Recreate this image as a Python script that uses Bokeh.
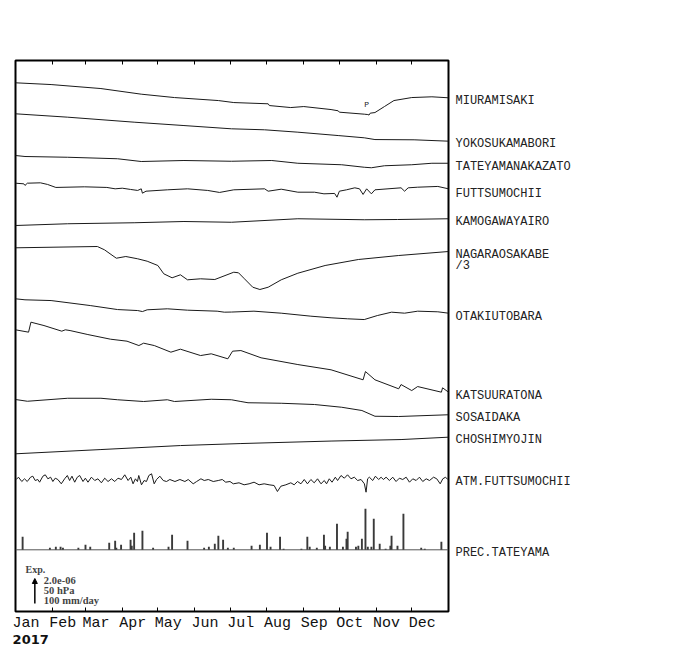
from bokeh.plotting import figure
from bokeh.models import Range1d, LinearAxis, FixedTicker, Label, Arrow, NormalHead
from bokeh.embed import file_html
from bokeh.resources import INLINE

# ---------------- data ----------------
months = ["Jan", "Feb", "Mar", "Apr", "May", "Jun", "Jul", "Aug", "Sep", "Oct", "Nov", "Dec"]
month_start_days = [0, 31, 59, 90, 120, 151, 181, 212, 243, 273, 304, 334]
year_label = "2017"

# strain, in units of 1e-6, relative to Jan 1
miura_days = [0, 30, 72, 106, 134, 171, 184, 213, 214, 232, 243, 266, 272, 273, 294, 297, 298, 299, 303, 311, 319, 334, 351, 365]
miura_vals = [0.00, -0.14, -0.46, -0.91, -1.18, -1.42, -1.58, -1.68, -1.82, -1.98, -1.90, -2.14, -2.24, -2.35, -2.51, -2.54, -2.58, -2.43, -2.38, -1.90, -1.42, -1.18, -1.12, -1.20]

yokosuka_days = [0, 44, 100, 142, 182, 210, 238, 272, 294, 303, 336, 365]
yokosuka_vals = [0, -0.27, -0.67, -0.94, -1.20, -1.28, -1.47, -1.74, -1.92, -2.06, -2.08, -2.19]

tateyama_days = [0, 8, 44, 86, 106, 142, 182, 216, 238, 275, 294, 300, 311, 334, 351, 365]
tateyama_vals = [0, -0.08, -0.14, -0.26, -0.48, -0.40, -0.46, -0.40, -0.62, -0.74, -0.94, -0.98, -0.82, -0.74, -0.62, -0.62]

futtsu_days = [0, 7, 8, 10, 21, 27, 34, 58, 77, 84, 90, 97, 103, 106, 107, 110, 128, 145, 162, 172, 184, 210, 213, 224, 238, 252, 260, 269, 271, 273, 279, 286, 290, 293, 296, 300, 303, 314, 325, 328, 331, 339, 356, 365]
futtsu_vals = [0, -0.05, -0.18, 0, 0.03, -0.10, -0.34, -0.29, -0.34, -0.45, -0.40, -0.50, -0.58, -0.45, -0.80, -0.64, -0.53, -0.45, -0.58, -0.74, -0.53, -0.45, -0.64, -0.48, -0.72, -0.72, -0.85, -0.82, -1.12, -0.64, -0.53, -0.37, -0.45, -0.90, -0.45, -0.85, -0.53, -0.45, -0.37, -0.64, -0.37, -0.32, -0.26, -0.45]

kamogawa_days = [0, 44, 100, 142, 182, 238, 294, 322, 365]
kamogawa_vals = [0, 0.14, 0.22, 0.32, 0.26, 0.54, 0.46, 0.48, 0.54]

nagara_days = [0, 69, 75, 85, 93, 103, 111, 120, 125, 132, 139, 145, 156, 168, 184, 188, 193, 200, 206, 213, 224, 238, 261, 289, 323, 365]
nagara_vals = [0, 0.31, -0.48, -2.50, -2.09, -2.64, -3.22, -4.25, -6.24, -7.20, -6.48, -7.68, -7.44, -7.61, -5.86, -6.00, -7.44, -9.46, -10.01, -9.46, -7.68, -6.10, -4.25, -2.81, -1.85, -0.89]

otaki_days = [0, 8, 30, 63, 86, 103, 107, 111, 128, 145, 170, 176, 182, 201, 224, 249, 266, 280, 294, 305, 317, 328, 339, 356, 365]
otaki_vals = [0, -0.08, -0.14, -0.54, -0.86, -0.94, -1.02, -0.88, -0.80, -0.91, -0.99, -1.07, -1.06, -0.99, -1.15, -1.39, -1.52, -1.60, -1.66, -1.34, -1.07, -1.15, -0.99, -1.04, -1.15]

katsuura_days = [0, 11, 13, 24, 39, 42, 46, 61, 80, 94, 104, 108, 117, 131, 139, 156, 165, 179, 183, 190, 207, 238, 266, 293, 295, 303, 323, 325, 334, 339, 359, 360, 365]
katsuura_vals = [0, -0.19, 0.61, 0.34, -0.11, 0, -0.06, -0.38, -0.75, -0.91, -1.26, -1.07, -1.26, -1.79, -1.55, -2.06, -1.92, -2.32, -1.71, -1.66, -2.24, -2.78, -3.20, -4.00, -3.34, -4.00, -4.72, -4.38, -4.86, -4.54, -4.99, -4.64, -4.99]

sosaidaka_days = [0, 10, 44, 72, 86, 108, 128, 134, 165, 182, 190, 196, 224, 252, 275, 292, 303, 323, 365]
sosaidaka_vals = [0, -0.14, 0.10, 0.10, -0.02, -0.16, -0.02, -0.16, 0.02, -0.02, -0.16, -0.26, -0.30, -0.40, -0.62, -0.88, -1.34, -1.36, -1.22]

choshi_days = [0, 72, 139, 190, 266, 325, 365]
choshi_vals = [0, 0.34, 0.66, 0.82, 1.02, 1.14, 1.33]

# atmospheric pressure at Futtsumochii, hPa
atm_days = [0.6, 2.5, 5.3, 7.6, 9.9, 12.7, 14.6, 16.6, 18.8, 20.3,
            23.1, 25.1, 27.3, 29.6, 31.5, 33.5, 35.7, 38.6, 41.4, 43.7,
            45.6, 47.6, 49.9, 52.1, 54.1, 56.9, 58.9, 61.1, 64.0, 66.8,
            69.5, 72.4, 75.2, 78.0, 80.9, 83.7, 86.4, 89.3, 92.1, 94.9,
            97.2, 99.1, 101.1, 102.8, 103.9, 106.2, 108.4, 110.4, 112.4, 114.7,
            116.9, 118.9, 121.7, 124.5, 127.3, 130.1, 134.4, 138.6, 142.8, 145.6,
            149.8, 152.7, 156.3, 159.1, 162.5, 166.7, 170.9, 174.3, 177.2, 180.8,
            183.6,
            188.4, 192.7, 196.9, 201.1, 205.3, 209.6, 213.8, 218.0, 220.8, 223.7,
            227.9, 232.1, 234.9, 237.7, 240.6, 243.4, 246.1, 249.0, 251.8, 254.6,
            257.5, 260.3, 262.2, 264.5, 266.8, 269.6, 271.5, 274.4, 277.2, 279.9,
            282.8, 285.6, 288.4, 291.3, 294.1, 295.5, 296.8, 298.3, 301.1, 303.4,
            306.1, 308.2, 310.1, 312.4, 315.2, 318.0, 320.8, 323.6, 326.4, 329.3,
            332.1, 334.9, 337.7, 340.5, 343.3, 346.2, 349.0, 352.4, 355.1, 358.0,
            360.2, 362.5, 364.4]
atm_hpa = [1015, 1019.6, 1011, 1016.4, 1011, 1019.6, 1021.6, 1013, 1015, 1009.6,
           1021.6, 1024.4, 1016.4, 1019.6, 1011, 1017.6, 1015, 1006.4, 1016.4, 1023,
           1013, 1021.6, 1009.6, 1019.6, 1023, 1011, 1017.6, 1009.6, 1019.6, 1013,
           1016.4, 1008.4, 1017.6, 1011, 1016.4, 1011, 1017.6, 1015, 1024.4, 1013,
           1019.6, 1006.4, 1016.4, 1011, 1023, 1004.4, 1013, 1011, 1023, 1026.4,
           1006.4, 1015, 1021.6, 1013, 1011, 1015, 1011, 1015, 1011, 1015,
           1006.4, 1011, 1016.4, 1013, 1015, 1011, 1013, 1015, 1009.6, 1011,
           1006.4,
           1008.4, 1004.4, 1006.4, 1009.6, 1004.4, 1006.4, 1004.4, 1003, 991, 1001.6,
           1004.4, 1008.4, 1004.4, 1011, 1006.4, 1015, 1006.4, 1015, 1008.4, 1016.4,
           1006.4, 1013, 1006.4, 1016.4, 1009.6, 1019.6, 1013, 1023, 1017.6, 1024.4,
           1016.4, 1019.6, 1013, 1015, 1006.4, 989.6, 1016.4, 1019.6, 1013, 1021.6,
           1015, 1019.6, 1015, 1019.6, 1013, 1019.6, 1011, 1017.6, 1015, 1019.6,
           1009.6, 1016.4, 1013, 1019.6, 1011, 1016.4, 1013, 1019.6, 1016.4, 1006.4,
           1016.4, 1019.6, 1015]

# daily precipitation at Tateyama, mm/day
prec_days = [6, 29, 34, 38, 40, 53, 59, 63, 79, 84, 85, 89, 97, 98, 100, 107, 116, 129, 132, 145,
             159, 163, 168, 171, 175, 179, 184, 199, 206, 212, 215, 223, 226, 241, 246, 248, 254, 260, 261, 265,
             271, 276, 279, 280, 287, 289, 292, 295, 297, 300, 302, 307, 312, 316, 317, 322, 327, 342, 345, 359]
prec_mm = [52, 8, 12, 12, 8, 8, 20, 12, 28, 36, 8, 20, 40, 16, 68, 76, 8, 12, 60, 36,
           8, 12, 24, 56, 40, 8, 8, 16, 20, 68, 12, 52, 4, 4, 52, 12, 8, 60, 16, 12,
           104, 12, 44, 72, 12, 16, 44, 164, 12, 12, 124, 24, 4, 16, 56, 16, 144, 8, 4, 32]

scale_texts = ["2.0e-06", "50 hPa", "100 mm/day"]

# ---------------- layout / scales ----------------
FRAME_W, FRAME_H = 433, 551
SCALE_PX = 25.0            # length of the scale arrow
STRAIN_PER_SCALE = 2.0     # x 1e-6
HPA_PER_SCALE = 50.0
MM_PER_SCALE = 100.0
px_strain = SCALE_PX / STRAIN_PER_SCALE

# (name, days, values, row start (px from frame top), label centre, divisor)
stations = [
    ("MIURAMISAKI", miura_days, miura_vals, 22.3, 40.7, 1),
    ("YOKOSUKAMABORI", yokosuka_days, yokosuka_vals, 53.3, 83.3, 1),
    ("TATEYAMANAKAZATO", tateyama_days, tateyama_vals, 95.0, 106.7, 1),
    ("FUTTSUMOCHII", futtsu_days, futtsu_vals, 122.7, 133.0, 1),
    ("KAMOGAWAYAIRO", kamogawa_days, kamogawa_vals, 165.0, 161.7, 1),
    ("NAGARAOSAKABE", nagara_days, nagara_vals, 187.3, 194.3, 3),
    ("OTAKIUTOBARA", otaki_days, otaki_vals, 238.3, 256.0, 1),
    ("KATSUURATONA", katsuura_days, katsuura_vals, 269.3, 335.7, 1),
    ("SOSAIDAKA", sosaidaka_days, sosaidaka_vals, 339.0, 357.3, 1),
    ("CHOSHIMYOJIN", choshi_days, choshi_vals, 393.3, 379.3, 1),
]
ATM_ROW, ATM_REF, ATM_LABEL = 420.0, 1013.0, 421.7
PREC_ROW, PREC_LABEL = 489.3, 492.7
DIV_LABEL_Y = 205.7

LINE_COLOR = "#1a1a1a"
MONO = "Liberation Mono"
MONTH_LABEL_SHIFT = 8.8    # days: label box starts just left of the month tick

p = figure(frame_width=FRAME_W, frame_height=FRAME_H,
           min_border_left=15, min_border_top=60, min_border_right=240, min_border_bottom=10,
           x_range=Range1d(0, 365), y_range=Range1d(FRAME_H, 0),
           x_axis_location=None, y_axis_location=None,
           output_backend="svg", toolbar_location=None)
p.outline_line_color = "black"
p.outline_line_width = 2
p.background_fill_color = "white"
p.border_fill_color = "white"
p.xgrid.visible = False
p.ygrid.visible = False

tick_days = month_start_days[1:]
# month ticks (inside) on top and bottom
for loc in ("above", "below"):
    ax = LinearAxis(ticker=FixedTicker(ticks=tick_days),
                    major_tick_in=4, major_tick_out=0,
                    minor_tick_line_color=None, axis_line_color=None,
                    major_tick_line_color="black", major_tick_line_width=1,
                    major_label_overrides={d: "" for d in tick_days},
                    major_label_text_font_size="1px", major_label_standoff=0)
    p.add_layout(ax, loc)

# month names
mpos = [d + MONTH_LABEL_SHIFT for d in month_start_days]
month_axis = LinearAxis(ticker=FixedTicker(ticks=mpos),
                        major_label_overrides={mp: m for mp, m in zip(mpos, months)},
                        major_tick_line_color=None, minor_tick_line_color=None,
                        axis_line_color=None, major_tick_in=0, major_tick_out=0,
                        major_label_standoff=3, major_label_text_font=MONO,
                        major_label_text_font_size="15px", major_label_text_color="#111111")
p.add_layout(month_axis, "below")

# year
year_pos = 12.8
year_axis = LinearAxis(ticker=FixedTicker(ticks=[year_pos]),
                       major_label_overrides={year_pos: year_label},
                       major_tick_line_color=None, minor_tick_line_color=None,
                       axis_line_color=None, major_tick_in=0, major_tick_out=0,
                       major_label_standoff=0, major_label_text_font="DejaVu Sans",
                       major_label_text_font_style="bold",
                       major_label_text_font_size="13px", major_label_text_color="#111111")
p.add_layout(year_axis, "below")

# station names on the right
right_pos = [s[4] for s in stations] + [ATM_LABEL, PREC_LABEL, DIV_LABEL_Y]
right_txt = [s[0] for s in stations] + ["ATM.FUTTSUMOCHII", "PREC.TATEYAMA", "/3"]
name_axis = LinearAxis(ticker=FixedTicker(ticks=right_pos),
                       major_label_overrides={yp: t for yp, t in zip(right_pos, right_txt)},
                       major_tick_line_color=None, minor_tick_line_color=None,
                       axis_line_color=None, major_tick_in=0, major_tick_out=0,
                       major_label_standoff=7, major_label_text_font=MONO,
                       major_label_text_font_size="12px", major_label_text_color="#222222")
p.add_layout(name_axis, "right")

for name, days, vals, row, lab_y, div in stations:
    ys = [row - v * px_strain / div for v in vals]
    p.line(days, ys, line_color=LINE_COLOR, line_width=1)

p.add_layout(Label(x=296, y=43.5, text="P", text_font=MONO, text_font_size="8px",
                   text_align="center", text_baseline="middle", text_color="#222222"))

atm_y = [ATM_ROW - (h - ATM_REF) * SCALE_PX / HPA_PER_SCALE for h in atm_hpa]
p.line(atm_days, atm_y, line_color=LINE_COLOR, line_width=1)

p.line([p.x_range.start, p.x_range.end], [PREC_ROW, PREC_ROW], line_color="#555555", line_width=1)
prec_top = [PREC_ROW - m * SCALE_PX / MM_PER_SCALE for m in prec_mm]
p.vbar(x=prec_days, width=1.6, bottom=PREC_ROW, top=prec_top,
       fill_color="#3a3a3a", line_color=None)

# scale legend
ARROW_X, ARROW_Y0 = 16.3, 543.0
p.add_layout(Arrow(end=NormalHead(size=5, fill_color="black", line_color="black"),
                   x_start=ARROW_X, y_start=ARROW_Y0, x_end=ARROW_X, y_end=ARROW_Y0 - SCALE_PX,
                   line_color="black", line_width=1.5))
p.add_layout(Label(x=8.4, y=508.5, text="Exp.", text_font="Liberation Serif",
                   text_font_style="bold", text_font_size="10px", text_baseline="middle"))
for i, t in enumerate(scale_texts):
    p.add_layout(Label(x=23.9, y=520 + i * 9.8, text=t, text_font="Liberation Serif",
                       text_font_style="bold", text_font_size="10.5px", text_baseline="middle"))

open("out.html", "w").write(file_html(p, INLINE))
